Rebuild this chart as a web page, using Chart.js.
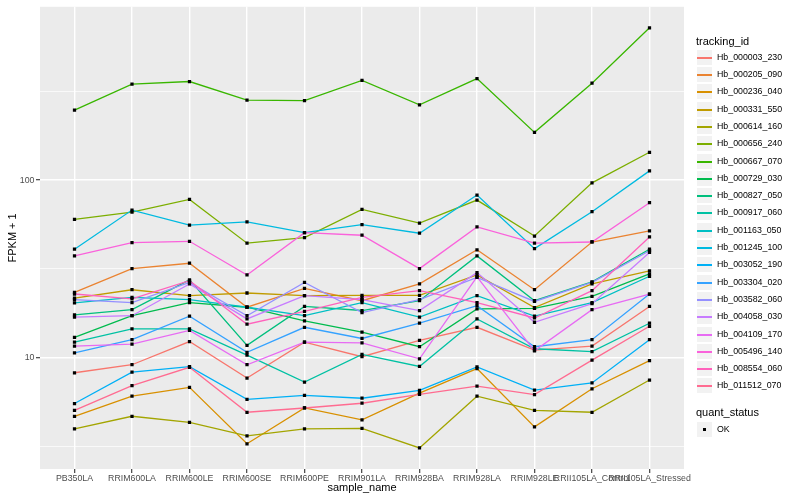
<!DOCTYPE html>
<html>
<head>
<meta charset="utf-8">
<script src="https://cdn.jsdelivr.net/npm/chart.js@4.4.0/dist/chart.umd.min.js"></script>
<style>
  body { margin: 0; background: #fff; }
  #wrap { position: relative; width: 800px; height: 500px; font-family: "Liberation Sans", Arial, sans-serif; }
  #legend div { position: absolute; white-space: nowrap; }
  .ttl { font-size: 11px; color: #000; height: 14px; line-height: 14px; }
  .lbl { font-size: 8.8px; color: #000; }
  .key { background: #F2F2F2; border: 1px solid #fff; box-sizing: border-box; }
</style>
</head>
<body>
<div id="wrap">
  <canvas id="chart" width="800" height="500"></canvas>
  <div id="legend"></div>
</div>
<script>
// x categories
const sampleNames = ['PB350LA', 'RRIM600LA', 'RRIM600LE', 'RRIM600SE', 'RRIM600PE', 'RRIM901LA',
  'RRIM928BA', 'RRIM928LA', 'RRIM928LE', 'RRII105LA_Control', 'RRII105LA_Stressed'];

const trackingIds = ['Hb_000003_230', 'Hb_000205_090', 'Hb_000236_040', 'Hb_000331_550', 'Hb_000614_160',
  'Hb_000656_240', 'Hb_000667_070', 'Hb_000729_030', 'Hb_000827_050', 'Hb_000917_060', 'Hb_001163_050',
  'Hb_001245_100', 'Hb_003052_190', 'Hb_003304_020', 'Hb_003582_060', 'Hb_004058_030', 'Hb_004109_170',
  'Hb_005496_140', 'Hb_008554_060', 'Hb_011512_070'];

// ggplot hue palette, 20 levels
const hueColors = ['#F8766D', '#EA8331', '#D89000', '#C09B00', '#A3A500', '#7CAE00', '#39B600', '#00BB4E',
  '#00BF7D', '#00C1A3', '#00BFC4', '#00BAE0', '#00B0F6', '#35A2FF', '#9590FF', '#C77CFF', '#E76BF3',
  '#FA62DB', '#FF62BC', '#FF6C91'];

// FPKM + 1 per sample
const Hb_000003_230 = [8.20, 9.10, 12.3, 7.65, 12.2, 10.1, 12.5, 14.8, 11.0, 11.6, 19.4];
const Hb_000205_090 = [23.3, 31.7, 34.0, 19.2, 24.5, 20.9, 26.0, 40.5, 24.1, 44.8, 51.7];
const Hb_000236_040 = [4.66, 6.05, 6.78, 3.26, 5.19, 4.45, 6.30, 8.66, 4.06, 6.66, 9.59];
const Hb_000331_550 = [21.6, 24.1, 22.3, 23.1, 22.3, 22.4, 22.4, 29.2, 19.1, 26.0, 30.8];
const Hb_000614_160 = [3.96, 4.66, 4.30, 3.61, 3.96, 3.98, 3.09, 6.05, 5.03, 4.91, 7.46];
const Hb_000656_240 = [60.1, 66.1, 77.9, 44.1, 47.4, 68.4, 57.3, 77.2, 48.4, 96.6, 143.6];
const Hb_000667_070 = [248, 348, 360, 283, 281, 365, 266, 374, 186, 352, 723];
const Hb_000729_030 = [13.0, 17.2, 20.4, 19.2, 16.1, 13.9, 11.5, 18.8, 18.9, 22.1, 29.6];
const Hb_000827_050 = [17.4, 18.6, 27.4, 11.7, 19.4, 18.4, 20.9, 37.4, 20.9, 26.7, 40.8];
const Hb_000917_060 = [12.2, 14.5, 14.5, 10.3, 7.27, 10.4, 8.90, 16.5, 11.2, 10.8, 15.6];
const Hb_001163_050 = [20.3, 21.8, 21.2, 19.2, 17.2, 20.4, 16.9, 22.3, 17.1, 20.4, 28.7];
const Hb_001245_100 = [40.8, 67.8, 55.7, 58.1, 50.6, 56.1, 50.2, 82.4, 41.1, 66.4, 112.8];
const Hb_003052_190 = [5.50, 8.27, 8.87, 5.80, 6.12, 5.89, 6.52, 8.84, 6.54, 7.18, 12.6];
const Hb_003304_020 = [10.6, 12.6, 17.1, 10.7, 14.8, 12.8, 15.6, 19.6, 11.5, 12.6, 22.8];
const Hb_003582_060 = [21.2, 20.4, 26.5, 17.2, 26.5, 17.9, 21.2, 28.3, 20.7, 26.5, 40.0];
const Hb_004058_030 = [16.9, 17.2, 26.0, 16.5, 22.3, 21.2, 18.4, 30.1, 15.8, 20.1, 39.1];
const Hb_004109_170 = [11.6, 11.9, 14.2, 9.10, 12.2, 12.1, 9.83, 28.5, 10.9, 18.6, 22.8];
const Hb_005496_140 = [37.4, 44.4, 45.2, 29.2, 50.6, 48.9, 31.7, 54.5, 44.1, 44.8, 74.6];
const Hb_008554_060 = [22.8, 21.4, 27.1, 15.4, 18.2, 21.8, 23.8, 20.4, 16.7, 23.8, 47.8];
const Hb_011512_070 = [5.03, 6.93, 8.80, 4.91, 5.19, 5.52, 6.19, 6.90, 6.17, 9.66, 15.0];

const seriesValues = [Hb_000003_230, Hb_000205_090, Hb_000236_040, Hb_000331_550, Hb_000614_160,
  Hb_000656_240, Hb_000667_070, Hb_000729_030, Hb_000827_050, Hb_000917_060, Hb_001163_050,
  Hb_001245_100, Hb_003052_190, Hb_003304_020, Hb_003582_060, Hb_004058_030, Hb_004109_170,
  Hb_005496_140, Hb_008554_060, Hb_011512_070];

// y ticks (log10), minor ones sit halfway between decades
const yMajorTicks = [10, 100];
const yMinorTicks = [3.1623, 31.623, 316.23];
const yMin = 2.35, yMax = 950;

const isMajor = v => yMajorTicks.includes(v);

const datasets = seriesValues.map((vals, i) => ({
  label: trackingIds[i],
  data: vals.map((v, j) => ({ x: j, y: v })),
  borderColor: hueColors[i],
  borderWidth: 1.3,
  pointRadius: 0,
  tension: 0,
  order: seriesValues.length - i + 1 // later levels drawn on top, like ggplot
}));

// all points on top of every line (geom_point layer)
datasets.push({
  label: 'OK',
  data: seriesValues.flatMap(vals => vals.map((v, j) => ({ x: j, y: v }))),
  showLine: false,
  pointStyle: 'rect',
  pointRadius: 2.3,
  pointBackgroundColor: '#000',
  pointBorderWidth: 0,
  order: 0
});

const panelBg = {
  id: 'panelBg',
  beforeDraw(chart) {
    const { ctx, chartArea: a } = chart;
    ctx.save();
    ctx.fillStyle = '#EBEBEB';
    ctx.fillRect(a.left, a.top, a.right - a.left, a.bottom - a.top);
    ctx.restore();
  }
};

const tickFont = { family: '"Liberation Sans", Arial, sans-serif', size: 8.8 };
const titleFont = { family: '"Liberation Sans", Arial, sans-serif', size: 11 };

new Chart(document.getElementById('chart'), {
  type: 'line',
  data: { datasets },
  plugins: [panelBg],
  options: {
    responsive: false,
    animation: false,
    layout: { padding: { left: 0, top: 5, right: 116, bottom: 0 } },
    plugins: { legend: { display: false }, tooltip: { enabled: false } },
    scales: {
      x: {
        type: 'linear',
        min: -0.6,
        max: sampleNames.length - 0.4,
        bounds: 'data',
        afterBuildTicks: s => { s.ticks = sampleNames.map((n, i) => ({ value: i })); },
        afterFit: s => { s.height = 31; },
        ticks: {
          autoSkip: false, maxRotation: 0, minRotation: 0, padding: 0,
          color: '#4D4D4D', font: tickFont,
          callback: v => sampleNames[v]
        },
        grid: { color: '#fff', lineWidth: 1.4, tickColor: '#333', tickLength: 4, tickWidth: 1.1 },
        border: { display: false },
        title: { display: true, text: 'sample_name', color: '#000', font: titleFont, padding: { top: 0, bottom: 5.4 } }
      },
      y: {
        type: 'logarithmic',
        min: yMin,
        max: yMax,
        bounds: 'data',
        afterBuildTicks: s => {
          s.ticks = yMinorTicks.concat(yMajorTicks).sort((a, b) => a - b).map(v => ({ value: v }));
        },
        afterFit: s => { s.width = 40; },
        ticks: {
          padding: 1.5, color: '#4D4D4D', font: tickFont,
          callback: v => isMajor(v) ? String(v) : ''
        },
        grid: {
          color: '#fff',
          lineWidth: c => (c.tick && isMajor(c.tick.value)) ? 1.4 : 0.7,
          tickColor: c => (c.tick && isMajor(c.tick.value)) ? '#333' : 'rgba(0,0,0,0)',
          tickLength: 4,
          tickWidth: 1.1
        },
        border: { display: false },
        title: { display: true, text: 'FPKM + 1', color: '#000', font: titleFont, padding: { top: 6.4, bottom: 0 } }
      }
    }
  }
});

// legend, ggplot style
const legendBox = document.getElementById('legend');
const keyX = 696, keyW = 17, rowH = 17.3, textX = 717;

function addDiv(cls, text, x, y, h) {
  const d = document.createElement('div');
  d.className = cls;
  if (text) d.textContent = text;
  d.style.left = x + 'px';
  d.style.top = y + 'px';
  if (h) { d.style.height = h + 'px'; d.style.lineHeight = h + 'px'; }
  legendBox.appendChild(d);
  return d;
}

function addKey(top) {
  const k = addDiv('key', '', keyX, top);
  k.style.width = keyW + 'px';
  k.style.height = '17px';
  return k;
}

addDiv('ttl', 'tracking_id', 696, 33.7);
trackingIds.forEach((id, i) => {
  const top = Math.round(48.7 + rowH * i);
  const k = addKey(top);
  const ln = document.createElement('div');
  ln.style.left = '0px';
  ln.style.width = (keyW - 2) + 'px';
  ln.style.top = '7px';
  ln.style.height = '1.5px';
  ln.style.background = hueColors[i];
  k.appendChild(ln);
  addDiv('lbl', id, textX, top, 17);
});

addDiv('ttl', 'quant_status', 696, 405.3);
const okTop = 421;
const ok = addKey(okTop);
const sq = document.createElement('div');
sq.style.left = '6px';
sq.style.top = '6px';
sq.style.width = '3px';
sq.style.height = '3px';
sq.style.background = '#000';
ok.appendChild(sq);
addDiv('lbl', 'OK', textX, okTop, 17);
</script>
</body>
</html>
